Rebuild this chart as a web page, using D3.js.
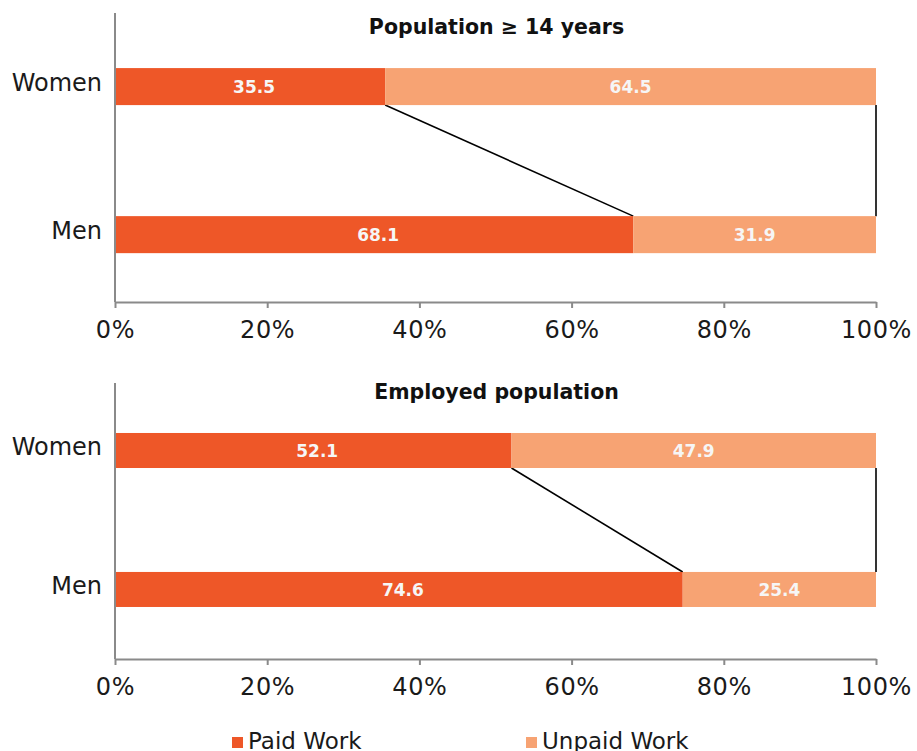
<!doctype html>
<html>
<head>
<script src="https://cdnjs.cloudflare.com/ajax/libs/d3/7.8.5/d3.min.js"></script>
<style>
body { margin: 0; background: #fff; }
svg { display: block; font-family: "DejaVu Sans", sans-serif; }
.axis path, .axis line { stroke: #8a8a8a; stroke-width: 2px; }
.axis text { font-size: 24px; fill: #1a1a1a; font-family: "DejaVu Sans", sans-serif; }
.xaxis text { letter-spacing: 0.6px; }
.title { font-size: 20.5px; font-weight: bold; text-anchor: middle; fill: #111; }
.barlabel { font-size: 17px; font-weight: bold; fill: #f6f6f6; text-anchor: middle; }
.legend text { font-size: 23px; fill: #1a1a1a; }
</style>
</head>
<body>
<svg width="917" height="751"></svg>
<script>
// data
var categories = ["Women", "Men"];
var seriesNames = ["Paid Work", "Unpaid Work"];
var panelTitles = ["Population \u2265 14 years", "Employed population"];
var paidAll = [35.5, 68.1];
var unpaidAll = [64.5, 31.9];
var paidEmployed = [52.1, 74.6];
var unpaidEmployed = [47.9, 25.4];
var xTicks = [0, 0.2, 0.4, 0.6, 0.8, 1];

var colors = d3.scaleOrdinal().domain(seriesNames).range(["#ee5728", "#f7a373"]);

var svg = d3.select("svg");
var x = d3.scaleLinear().domain([0, 1]).range([115, 876]);

var panels = [
  { title: panelTitles[0], paid: paidAll, unpaid: unpaidAll, top: 13, bottom: 302, titleY: 34,
    pi: 0.75, po: 0.351, align: 0.53 },
  { title: panelTitles[1], paid: paidEmployed, unpaid: unpaidEmployed, top: 383, bottom: 659, titleY: 399,
    pi: 0.748, po: 0.367, align: 0.49 }
];

panels.forEach(function(p) {
  var y = d3.scaleBand().domain(categories)
    .range([p.top, p.bottom]).paddingInner(p.pi).paddingOuter(p.po).align(p.align);

  var g = svg.append("g");

  var rows = categories.map(function(c, i) {
    return { cat: c, paid: p.paid[i], unpaid: p.unpaid[i] };
  });

  // connector lines
  var w = rows[0], m = rows[1];
  g.append("line")
    .attr("x1", x(w.paid / 100)).attr("y1", y("Women") + y.bandwidth())
    .attr("x2", x(m.paid / 100)).attr("y2", y("Men"))
    .attr("stroke", "#000").attr("stroke-width", 1.6);
  g.append("line")
    .attr("x1", x(1)).attr("y1", y("Women") + y.bandwidth())
    .attr("x2", x(1)).attr("y2", y("Men"))
    .attr("stroke", "#000").attr("stroke-width", 1.6);

  var row = g.selectAll("g.row").data(rows).enter().append("g").attr("class", "row");

  row.append("rect")
    .attr("x", x(0))
    .attr("y", d => y(d.cat))
    .attr("width", d => x(d.paid / 100) - x(0))
    .attr("height", y.bandwidth())
    .attr("fill", colors("Paid Work"));
  row.append("rect")
    .attr("x", d => x(d.paid / 100))
    .attr("y", d => y(d.cat))
    .attr("width", d => x(1) - x(d.paid / 100))
    .attr("height", y.bandwidth())
    .attr("fill", colors("Unpaid Work"));

  row.append("text").attr("class", "barlabel")
    .attr("x", d => (x(0) + x(d.paid / 100)) / 2 + 4)
    .attr("y", d => y(d.cat) + y.bandwidth() / 2)
    .attr("dy", "0.36em")
    .text(d => d3.format(".1f")(d.paid));
  row.append("text").attr("class", "barlabel")
    .attr("x", d => (x(d.paid / 100) + x(1)) / 2)
    .attr("y", d => y(d.cat) + y.bandwidth() / 2)
    .attr("dy", "0.36em")
    .text(d => d3.format(".1f")(d.unpaid));

  // axes
  g.append("g").attr("class", "axis xaxis")
    .attr("transform", "translate(0," + p.bottom + ")")
    .call(d3.axisBottom(x).tickValues(xTicks).tickFormat(d3.format(".0%")).tickSize(6).tickSizeOuter(0).tickPadding(13));

  g.append("g").attr("class", "axis")
    .attr("transform", "translate(" + x(0) + ",0)")
    .call(d3.axisLeft(y).tickSize(0).tickPadding(13))
    .call(a => a.select(".domain").attr("d", "M0," + p.top + "V" + p.bottom))
    .call(a => a.selectAll(".tick text").attr("dy", "0.2em"));

  g.append("text").attr("class", "title")
    .attr("x", (x(0) + x(1)) / 2 + 1)
    .attr("y", p.titleY)
    .text(p.title);
});

// legend
var legendX = [232, 526];
var lg = svg.append("g").attr("class", "legend");
seriesNames.forEach(function(s, i) {
  lg.append("rect").attr("x", legendX[i]).attr("y", 737).attr("width", 11).attr("height", 11).attr("fill", colors(s));
  lg.append("text").attr("x", legendX[i] + 16).attr("y", 749).text(s);
});
</script>
</body>
</html>
